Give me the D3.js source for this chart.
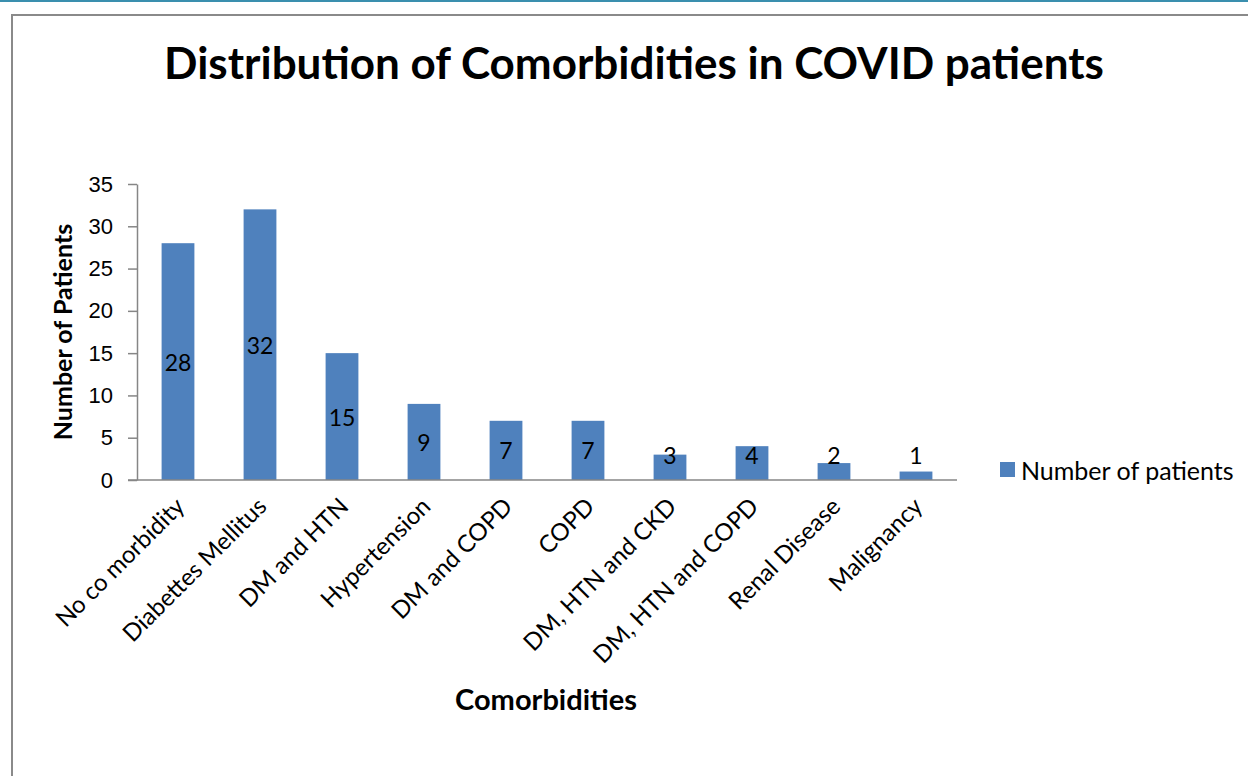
<!DOCTYPE html>
<html>
<head>
<meta charset="utf-8">
<script src="https://cdn.jsdelivr.net/npm/d3@7"></script>
<style>
  body { margin: 0; background: #fff; }
  svg { display: block; font-family: Lato, "Open Sans", sans-serif; }
</style>
</head>
<body>
<div id="chart"></div>
<script>
// data
const categories = ["No co morbidity", "Diabettes Mellitus", "DM and HTN", "Hypertension",
  "DM and COPD", "COPD", "DM, HTN and CKD", "DM, HTN and COPD", "Renal Disease", "Malignancy"];
const patients = [28, 32, 15, 9, 7, 7, 3, 4, 2, 1];
const yTicks = [0, 5, 10, 15, 20, 25, 30, 35];
const seriesName = "Number of patients";

const sizes = {width: 1248, height: 776, margin: {top: 184, right: 291, bottom: 296, left: 137}};
const barColour = "#4f81bd";
const axisColour = "#868686";

const svg = d3.select("#chart").append("svg")
  .attr("width", sizes.width)
  .attr("height", sizes.height);

// teal strip at top + chart frame
svg.append("rect").attr("x", 0).attr("y", 0).attr("width", sizes.width).attr("height", 2).attr("fill", "#3a8fae");
svg.append("rect")
  .attr("x", 12).attr("y", 15).attr("width", 1260).attr("height", 800)
  .attr("fill", "none").attr("stroke", "#8a8a8a").attr("stroke-width", 2);

const x = d3.scaleBand()
  .domain(categories)
  .range([sizes.margin.left, sizes.width - sizes.margin.right])
  .paddingInner(0.6)
  .paddingOuter(0.3);

const y = d3.scaleLinear()
  .domain([0, 35])
  .range([sizes.height - sizes.margin.bottom, sizes.margin.top]);

// y axis
const yAxis = svg.append("g")
  .attr("transform", `translate(${sizes.margin.left},0)`)
  .call(d3.axisLeft(y).tickValues(yTicks).tickSize(9).tickPadding(15).tickSizeOuter(0));
yAxis.select(".domain").attr("stroke", axisColour).attr("stroke-width", 1.5);
yAxis.selectAll(".tick line").attr("stroke", axisColour).attr("stroke-width", 1.5);
yAxis.selectAll("text")
  .style("font-size", "22px")
  .style("fill", "#000");

// bars
svg.append("g")
  .selectAll("rect")
  .data(patients)
  .join("rect")
    .attr("x", (d, i) => x(categories[i]))
    .attr("y", (d) => y(d))
    .attr("width", x.bandwidth())
    .attr("height", (d) => y(0) - y(d))
    .attr("fill", barColour);

// x axis line (drawn over bars)
svg.append("line")
  .attr("x1", sizes.margin.left - 9).attr("x2", sizes.width - sizes.margin.right)
  .attr("y1", y(0)).attr("y2", y(0))
  .attr("stroke", axisColour).attr("stroke-width", 1.5);

// data labels: centred, but kept clear of the axis for short bars
svg.append("g")
  .selectAll("text")
  .data(patients)
  .join("text")
    .text((d) => d)
    .attr("x", (d, i) => x(categories[i]) + x.bandwidth() / 2)
    .attr("y", (d) => Math.min(y(d / 2), y(0) - 25))
    .attr("text-anchor", "middle")
    .attr("dominant-baseline", "central")
    .style("font-size", "23px")
    .style("fill", "#000");

// rotated category labels
svg.append("g")
  .selectAll("text")
  .data(categories)
  .join("text")
    .text((d) => d)
    .attr("transform", (d) => `translate(${x(d) + x.bandwidth() / 2 + 8},${y(0) + 28}) rotate(-45)`)
    .attr("text-anchor", "end")
    .style("font-size", "24px")
    .style("fill", "#000");

// titles
svg.append("text")
  .text("Distribution of Comorbidities in COVID patients")
  .attr("x", 634).attr("y", 79)
  .attr("text-anchor", "middle")
  .style("font-size", "44px")
  .style("font-weight", "bold");

svg.append("text")
  .text("Number of Patients")
  .attr("transform", `translate(72,${(y(0) + y(35)) / 2}) rotate(-90)`)
  .attr("text-anchor", "middle")
  .style("font-size", "25px")
  .style("font-weight", "bold");

svg.append("text")
  .text("Comorbidities")
  .attr("x", 546).attr("y", 710)
  .attr("text-anchor", "middle")
  .style("font-size", "29px")
  .style("font-weight", "bold");

// legend
const legend = svg.append("g").attr("transform", "translate(1000,470)");
legend.append("rect").attr("x", 0).attr("y", -8).attr("width", 15).attr("height", 15).attr("fill", barColour);
legend.append("text")
  .text(seriesName)
  .attr("x", 21).attr("y", 0)
  .attr("dominant-baseline", "central")
  .style("font-size", "25px");
</script>
</body>
</html>
